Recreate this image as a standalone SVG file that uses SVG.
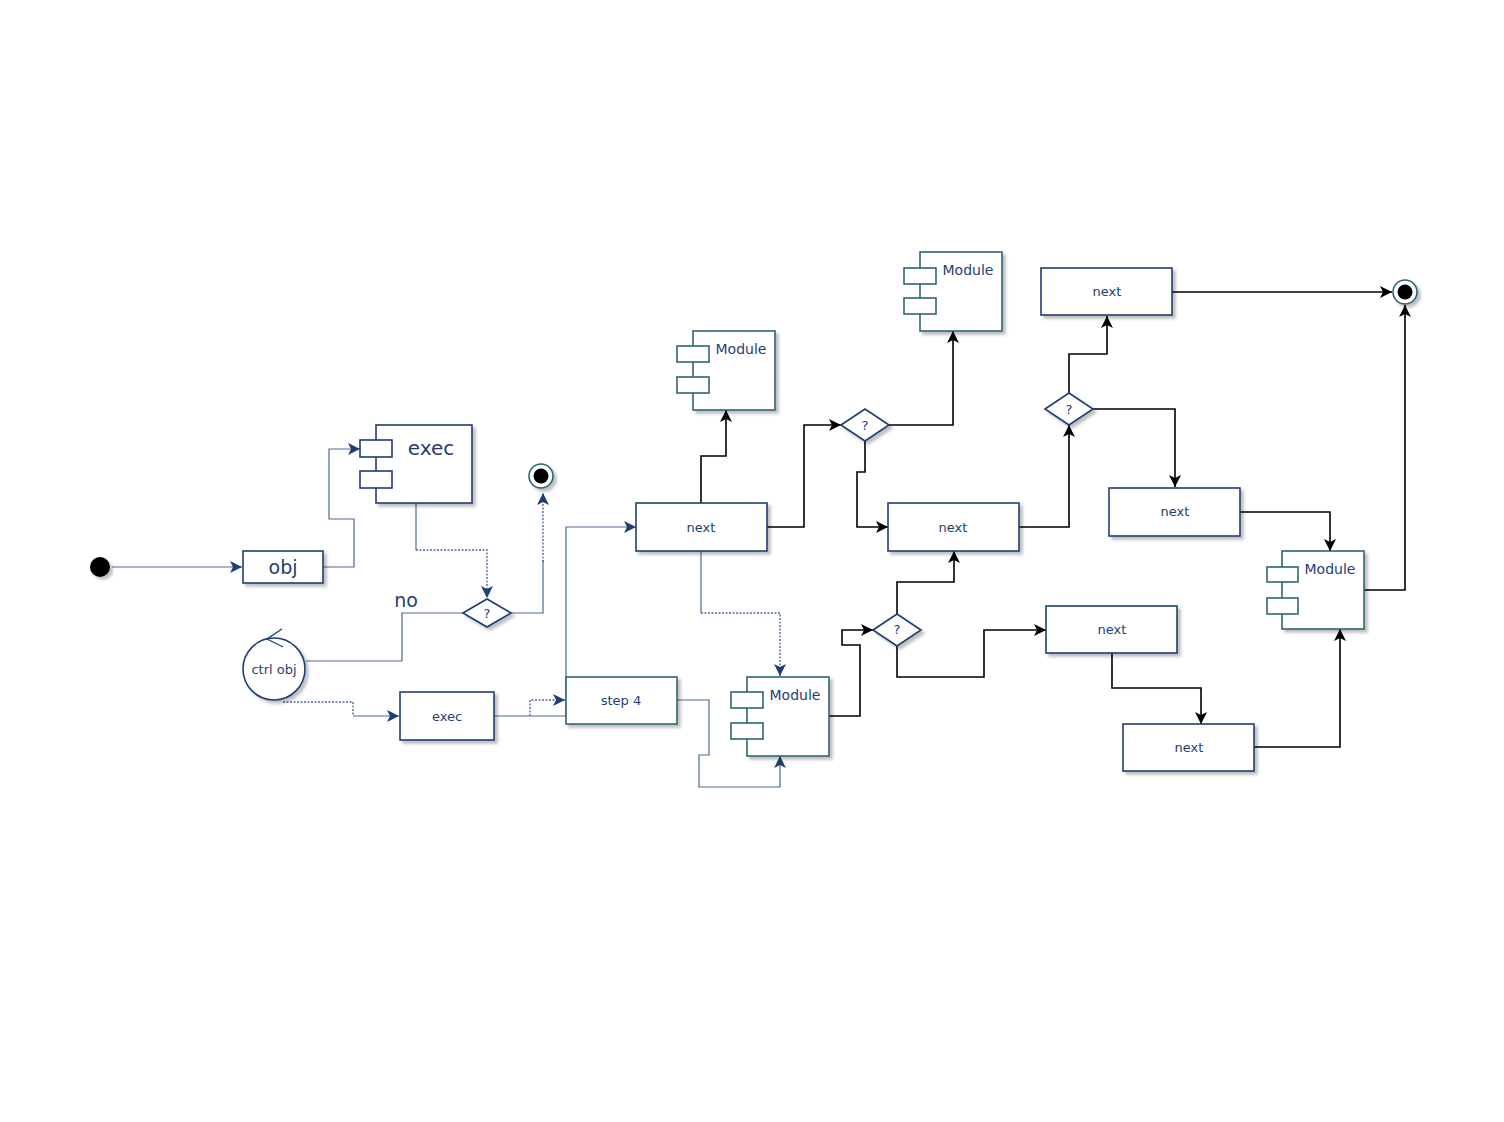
<svg xmlns="http://www.w3.org/2000/svg" width="1504" height="1122" viewBox="0 0 1504 1122">
<defs>
<filter id="sh" x="-20%" y="-20%" width="140%" height="140%"><feDropShadow dx="3" dy="3" stdDeviation="1.5" flood-color="#000" flood-opacity="0.25"/></filter>
<marker id="ab" markerUnits="userSpaceOnUse" markerWidth="14" markerHeight="12" refX="12" refY="6" orient="auto"><path d="M0,0 L12,6 L0,12 L3,6 z" fill="#1f3d73"/></marker>
<marker id="ak" markerUnits="userSpaceOnUse" markerWidth="14" markerHeight="12" refX="12" refY="6" orient="auto"><path d="M0,0 L12,6 L0,12 L3,6 z" fill="#000"/></marker>
</defs>
<style>
.box{fill:#fff;stroke:#1f3d73;stroke-width:1.6}
.mod{fill:#fff;stroke:#2f6474;stroke-width:1.6}
.t{font-family:"DejaVu Sans",Verdana,sans-serif;fill:#1f3d73;text-anchor:middle;dominant-baseline:central}
.cb{fill:none;stroke:#4d6a96;stroke-width:1.2}
.cd{fill:none;stroke:#4d6a96;stroke-width:1.4;stroke-dasharray:2,1.5}
.ck{fill:none;stroke:#000;stroke-width:1.6}
</style>
<rect width="1504" height="1122" fill="#fff"/>
<g id="connectors">
<path class="cb" d="M112,567 H242" marker-end="url(#ab)"/>
<path class="cb" d="M323,567 H354 V519 H329 V449 H360" marker-end="url(#ab)"/>
<path class="cb" d="M416,503 V550"/>
<path class="cd" d="M416,550 H487 V598" marker-end="url(#ab)"/>
<path class="cb" d="M511,613 H543 V560"/>
<path class="cd" d="M543,562 V493" marker-end="url(#ab)"/>
<path class="cb" d="M463,613 H402 V661 H306"/>
<path class="cd" d="M283,702 H353 V716"/>
<path class="cb" d="M353,716 H399" marker-end="url(#ab)"/>
<path class="cb" d="M494,716 H566 V527 H636" marker-end="url(#ab)"/>
<path class="cd" d="M530,716 V700 H565" marker-end="url(#ab)"/>
<path class="cb" d="M701,551 V613"/>
<path class="cd" d="M701,613 H780 V676" marker-end="url(#ab)"/>
<path class="cb" d="M677,700 H709 V755 H699 V787 H780 V756" marker-end="url(#ab)"/>
<path class="ck" d="M701,503 V456 H726 V410" marker-end="url(#ak)"/>
<path class="ck" d="M767,527 H804 V425 H841" marker-end="url(#ak)"/>
<path class="ck" d="M889,425 H953 V331" marker-end="url(#ak)"/>
<path class="ck" d="M865,441 V472 H857 V527 H888" marker-end="url(#ak)"/>
<path class="ck" d="M1019,527 H1069 V425" marker-end="url(#ak)"/>
<path class="ck" d="M1069,393 V354 H1107 V316" marker-end="url(#ak)"/>
<path class="ck" d="M1172,292 H1392" marker-end="url(#ak)"/>
<path class="ck" d="M1093,409 H1175 V487" marker-end="url(#ak)"/>
<path class="ck" d="M1240,512 H1330 V551" marker-end="url(#ak)"/>
<path class="ck" d="M1364,590 H1405 V305" marker-end="url(#ak)"/>
<path class="ck" d="M829,716 H860 V645 H842 V630 H873" marker-end="url(#ak)"/>
<path class="ck" d="M897,614 V582 H954 V551" marker-end="url(#ak)"/>
<path class="ck" d="M897,646 V677 H984 V630 H1046" marker-end="url(#ak)"/>
<path class="ck" d="M1112,653 V688 H1201 V724" marker-end="url(#ak)"/>
<path class="ck" d="M1254,747 H1340 V629" marker-end="url(#ak)"/>
<rect x="393" y="588" width="28" height="24" fill="#fff"/>
<text class="t" x="406" y="600" font-size="19">no</text>
</g>
<g id="start"><circle cx="100" cy="567" r="10" fill="#000" filter="url(#sh)"/></g>
<g id="obj"><rect class="box" x="243" y="551" width="80" height="32" filter="url(#sh)"/><text class="t" x="283" y="567" font-size="19">obj</text></g>
<g id="exec1">
<rect class="box" x="376" y="425" width="96" height="78" filter="url(#sh)"/>
<rect class="box" x="360" y="440" width="32" height="17"/>
<rect class="box" x="360" y="471" width="32" height="17"/>
<text class="t" x="431" y="448" font-size="20">exec</text>
</g>
<g id="end1"><circle cx="541" cy="476" r="12" fill="#fff" stroke="#2f6474" stroke-width="1.6" filter="url(#sh)"/><circle cx="541" cy="476" r="7.5" fill="#000"/></g>
<g id="dec1"><path class="box" d="M463,613 L487,599 L511,613 L487,627 z" filter="url(#sh)"/><text class="t" x="487" y="613" font-size="13">?</text></g>
<g id="ctrl">
<circle class="box" cx="274" cy="669" r="31" filter="url(#sh)"/>
<path d="M282,629 L267,639 L283,647" fill="none" stroke="#1f3d73" stroke-width="1.3"/>
<text class="t" x="274" y="669" font-size="13">ctrl obj</text>
</g>
<g id="exec2"><rect class="box" x="400" y="692" width="94" height="48" filter="url(#sh)"/><text class="t" x="447" y="716" font-size="13">exec</text></g>
<g id="step4"><rect class="mod" x="566" y="677" width="111" height="47" filter="url(#sh)"/><text class="t" x="621" y="700" font-size="13">step 4</text></g>
<g id="next1"><rect class="box" x="636" y="503" width="131" height="48" filter="url(#sh)"/><text class="t" x="701" y="527" font-size="13">next</text></g>
<g id="mod1">
<rect class="mod" x="693" y="331" width="82" height="79" filter="url(#sh)"/>
<rect class="mod" x="677" y="346" width="32" height="16"/>
<rect class="mod" x="677" y="377" width="32" height="16"/>
<text class="t" x="741" y="349" font-size="14">Module</text>
</g>
<g id="dec2"><path class="box" d="M841,425 L865,409 L889,425 L865,441 z" filter="url(#sh)"/><text class="t" x="865" y="425" font-size="13">?</text></g>
<g id="mod2">
<rect class="mod" x="920" y="252" width="82" height="79" filter="url(#sh)"/>
<rect class="mod" x="904" y="268" width="32" height="16"/>
<rect class="mod" x="904" y="298" width="32" height="16"/>
<text class="t" x="968" y="270" font-size="14">Module</text>
</g>
<g id="next2"><rect class="box" x="888" y="503" width="131" height="48" filter="url(#sh)"/><text class="t" x="953" y="527" font-size="13">next</text></g>
<g id="dec3"><path class="box" d="M1045,409 L1069,393 L1093,409 L1069,425 z" filter="url(#sh)"/><text class="t" x="1069" y="409" font-size="13">?</text></g>
<g id="next3"><rect class="box" x="1041" y="268" width="131" height="47" filter="url(#sh)"/><text class="t" x="1107" y="291" font-size="13">next</text></g>
<g id="end2"><circle cx="1405" cy="292" r="12" fill="#fff" stroke="#2f6474" stroke-width="1.6" filter="url(#sh)"/><circle cx="1405" cy="292" r="7.5" fill="#000"/></g>
<g id="next4"><rect class="box" x="1109" y="488" width="131" height="48" filter="url(#sh)"/><text class="t" x="1175" y="511" font-size="13">next</text></g>
<g id="mod4">
<rect class="mod" x="1282" y="551" width="82" height="78" filter="url(#sh)"/>
<rect class="mod" x="1267" y="567" width="31" height="15"/>
<rect class="mod" x="1267" y="598" width="31" height="16"/>
<text class="t" x="1330" y="569" font-size="14">Module</text>
</g>
<g id="mod3">
<rect class="mod" x="747" y="677" width="82" height="79" filter="url(#sh)"/>
<rect class="mod" x="731" y="692" width="32" height="16"/>
<rect class="mod" x="731" y="723" width="32" height="16"/>
<text class="t" x="795" y="695" font-size="14">Module</text>
</g>
<g id="dec4"><path class="box" d="M873,630 L897,614 L921,630 L897,646 z" filter="url(#sh)"/><text class="t" x="897" y="629" font-size="13">?</text></g>
<g id="next5"><rect class="box" x="1046" y="606" width="131" height="47" filter="url(#sh)"/><text class="t" x="1112" y="629" font-size="13">next</text></g>
<g id="next6"><rect class="box" x="1123" y="724" width="131" height="47" filter="url(#sh)"/><text class="t" x="1189" y="747" font-size="13">next</text></g>
</svg>
